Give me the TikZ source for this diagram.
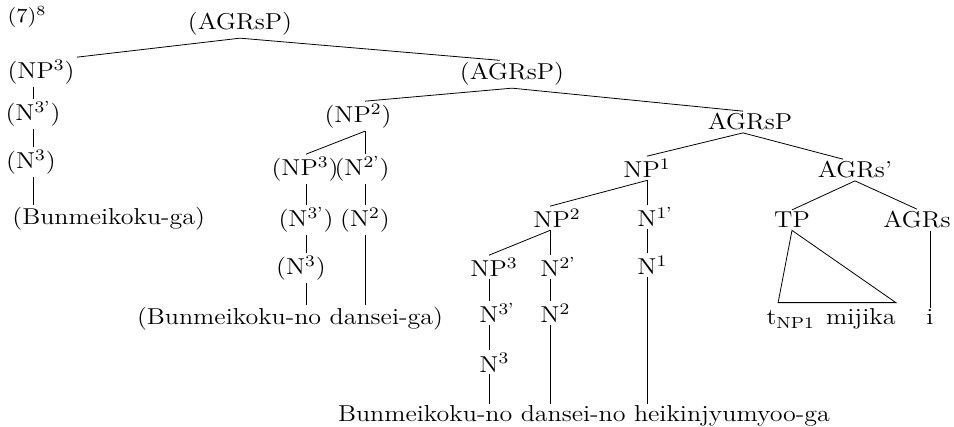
\documentclass[tikz,border=0pt]{standalone}
\usepackage{fontspec}
\setmainfont{Latin Modern Roman}[FakeStretch=1.13]
\begin{document}
\begin{tikzpicture}[x=0.5pt, y=-0.5pt, every node/.style={anchor=base, inner sep=1pt, font=\fontsize{11.5}{13}\selectfont}]
                \useasboundingbox (0,0) rectangle (954,427);
                \node[font=\fontsize{10}{12}\selectfont](ex) at (27,23){(7)\textsuperscript{8}};
                \node(agrA) at (240,30){(AGRsP)};
                \node(np3A) at (41,79){(NP\textsuperscript{3})};
                \node(agrB) at (512,80){(AGRsP)};
                % left branch
                \node(n3pA) at (33,121){(N\textsuperscript{3'})};
                \node(n3A) at (31,169){(N\textsuperscript{3})};
                \node[anchor=base west](bunA) at (10,225){(Bunmeikoku-ga)};
                % middle branch
                \node(np2B) at (358,123){(NP\textsuperscript{2})};
                \node(np3B) at (305,176){(NP\textsuperscript{3})};
                \node(n2pB) at (362,176){(N\textsuperscript{2'})};
                \node(n3pB) at (306,227){(N\textsuperscript{3'})};
                \node(n2B) at (365,227){(N\textsuperscript{2})};
                \node(n3B) at (301,275){(N\textsuperscript{3})};
                \node(bunB) at (290,325){(Bunmeikoku-no dansei-ga)};
                % right branch
                \node(agrC) at (750,130){AGRsP};
                \node(np1C) at (647,178){NP\textsuperscript{1}};
                \node(agrpC) at (855,178){AGRs'};
                \node(np2C) at (557,228){NP\textsuperscript{2}};
                \node(n1pC) at (647,227){N\rlap{\textsuperscript{1'}}};
                \node(tpC) at (792,228){TP};
                \node(agrsC) at (917,228){AGRs};
                \node(np3C) at (494,277){NP\textsuperscript{3}};
                \node(n2pC) at (550,277){N\rlap{\textsuperscript{2'}}};
                \node(n1C) at (647,275){N\rlap{\textsuperscript{1}}};
                \node(n3pC) at (489,323){N\rlap{\textsuperscript{3'}}};
                \node(n2C) at (550,323){N\rlap{\textsuperscript{2}}};
                \node(tC) at (831,325){t\textsubscript{NP1}\hspace{0.5em}mijika};
                \node(iC) at (930,325){i};
                \node(n3C) at (489,372){N\rlap{\textsuperscript{3}}};
                \node(bunC) at (584,422){Bunmeikoku-no dansei-no heikinjyumyoo-ga};
                % top
                \draw (agrA.south) -- (np3A.north east);
                \draw (agrA.south) -- ([xshift=-6pt]agrB.north);
                \draw (np3A.south -| n3pA) -- (n3pA.north);
                \draw (n3pA.south) -- (n3A.north -| n3pA);
                \draw (n3A.south -| n3pA) -- (bunA.north -| n3pA);
                % middle
                \draw (agrB.south) -- (np2B.north -| n2B);
                \draw (agrB.south) -- ([xshift=-3.5pt]agrC.north);
                \draw (np2B.south -| n2B) -- (np3B.north -| n3pB);
                \draw (np2B.south -| n2B) -- (n2pB.north -| n2B);
                \draw (np3B.south -| n3pB) -- (n3pB.north);
                \draw (n2pB.south -| n2B) -- (n2B.north);
                \draw (n3pB.south) -- (n3B.north -| n3pB);
                \draw (n3B.south -| n3pB) -- (bunB.north -| n3pB);
                \draw (n2B.south) -- (bunB.north -| n2B);
                % right
                \draw ([xshift=-3.5pt]agrC.south) -- (np1C.north);
                \draw ([xshift=-3.5pt]agrC.south) -- ([xshift=-6pt]agrpC.north);
                \draw (np1C.south) -- (np2C.north -| n2pC);
                \draw (np1C.south) -- (n1pC.north);
                \draw (n1pC.south) -- (n1C.north);
                \draw (n1C.south) -- (bunC.north -| n1C);
                \draw (np2C.south -| n2pC) -- (np3C.north -| n3pC);
                \draw (np2C.south -| n2pC) -- (n2pC.north);
                \draw (n2pC.south) -- (n2C.north);
                \draw (n2C.south) -- (bunC.north -| n2C);
                \draw (np3C.south -| n3pC) -- (n3pC.north);
                \draw (n3pC.south) -- (n3C.north);
                \draw (n3C.south) -- (bunC.north -| n3C);
                \draw (agrpC.south) -- (tpC.north);
                \draw (agrpC.south) -- (agrsC.north);
                \draw (tpC.south) -- ([xshift=7pt,yshift=2pt]tC.north west) -- ([xshift=-1pt,yshift=2pt]tC.north east) -- cycle;
                \draw (agrsC.south -| iC) -- (iC.north);
            \end{tikzpicture}
\end{document}
